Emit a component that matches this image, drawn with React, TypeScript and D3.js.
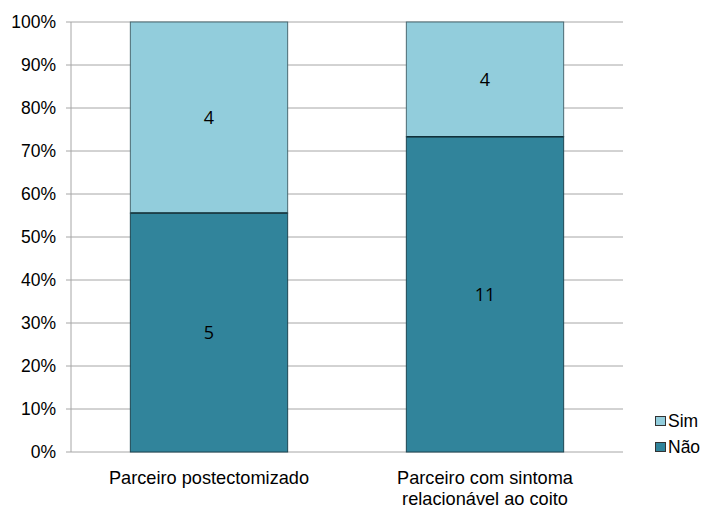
import React from "react";
import * as d3 from "d3";

const categories = [["Parceiro postectomizado"], ["Parceiro com sintoma", "relacionável ao coito"]];
const naoValues = [5, 11];
const simValues = [4, 4];
const seriesNames = ["Sim", "Não"];
const yTicks = [0, 0.1, 0.2, 0.3, 0.4, 0.5, 0.6, 0.7, 0.8, 0.9, 1.0];

const W = 704, H = 510;
const left = 71, right = 623, top = 22, bottom = 452;
const LIGHT = "#92CDDC", DARK = "#31849B";

export default function App() {
  const x = d3.scaleBand<number>().domain([0, 1]).range([left, right]).paddingInner(0.43).paddingOuter(0.215);
  const y = d3.scaleLinear().domain([0, 1]).range([bottom, top]);
  const fmt = d3.format(".0%");
  return (
    <svg width={W} height={H} style={{ position: "absolute", left: 0, top: 0 }} fontFamily="'Liberation Sans', Arial, sans-serif">
      <rect width={W} height={H} fill="#fff" />
      {yTicks.map((t) => (
        <g key={t}>
          <line x1={left - 5} x2={right} y1={y(t)} y2={y(t)} stroke="#a6a6a6" strokeWidth={1} />
          <text x={left - 15} y={y(t)} dy="0.35em" textAnchor="end" fontSize={17.5} fill="#000">{fmt(t)}</text>
        </g>
      ))}
      <line x1={left} x2={left} y1={top} y2={bottom} stroke="#a6a6a6" />
      {categories.map((c, i) => {
        const total = naoValues[i] + simValues[i];
        const pN = naoValues[i] / total;
        const bx = x(i)!;
        const bw = x.bandwidth();
        return (
          <g key={i}>
            <rect x={bx} y={y(pN)} width={bw} height={bottom - y(pN)} fill={DARK} stroke="#1e4652" strokeWidth={1} />
            <rect x={bx} y={y(1)} width={bw} height={y(pN) - y(1)} fill={LIGHT} stroke="#4a6a72" strokeWidth={1} />
            <line x1={bx} x2={bx + bw} y1={y(pN)} y2={y(pN)} stroke="#10303a" strokeWidth={1.5} />
            <text x={bx + bw / 2} y={y(pN / 2)} dy="0.35em" textAnchor="middle" fontSize={18} fontFamily="'Open Sans', sans-serif" fill="#000">{naoValues[i]}</text>
            <text x={bx + bw / 2} y={y(pN + (1 - pN) / 2)} dy="0.35em" textAnchor="middle" fontSize={18} fontFamily="'Open Sans', sans-serif" fill="#000">{simValues[i]}</text>
            {c.map((line, k) => (
              <text key={k} x={bx + bw / 2} y={478 + k * 21} dy="0.35em" textAnchor="middle" fontSize={18.2} fill="#000">{line}</text>
            ))}
          </g>
        );
      })}
      {seriesNames.map((s, k) => (
        <g key={s}>
          <rect x={655.5} y={416.5 + k * 26} width={10} height={9} fill={k === 0 ? LIGHT : DARK} stroke="#333" strokeWidth={1} />
          <text x={668} y={421 + k * 26} dy="0.35em" fontSize={17.5} fill="#000">{s}</text>
        </g>
      ))}
    </svg>
  );
}
